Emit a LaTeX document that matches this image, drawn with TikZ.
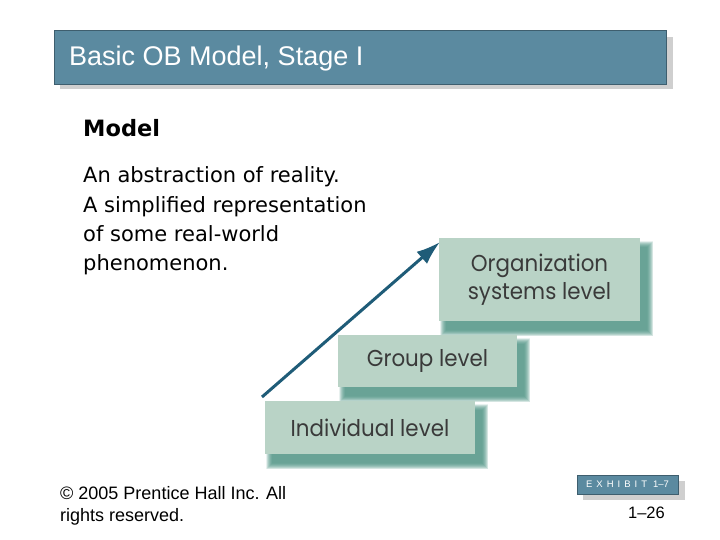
\documentclass[tikz,border=0pt]{standalone}
\usepackage{fontspec}
\setmainfont{Liberation Sans}
\newfontfamily\bodyfont{DejaVu Sans}
\newfontfamily\levelfont[FakeStretch=0.93]{Poppins}
\usetikzlibrary{arrows.meta}
\definecolor{titleblue}{HTML}{5B8AA0}
\definecolor{titleedge}{HTML}{3E5E6E}
\definecolor{greyshadow}{HTML}{CFCFCF}
\definecolor{boxfill}{HTML}{B9D3C6}
\definecolor{tealshadow}{HTML}{4F9585}
\definecolor{arrowblue}{HTML}{1F5C78}
\definecolor{leveltext}{HTML}{3A3A3A}
\newcommand{\softshadow}[4]{%
  \foreach \k in {0,...,12}{%
    \fill[tealshadow, opacity=0.13] (#1+7-6+\k*0.5, #2+9-6+\k*0.5) rectangle (#3+7+6-\k*0.5, #4+9+6-\k*0.5);
  }%
}
\tikzset{
  levelbox/.style={fill=boxfill, draw=none, inner sep=0pt, align=center,
    font=\levelfont\fontsize{23}{28}\selectfont, text=leveltext},
  plain/.style={inner sep=0pt, anchor=base west}
}
\begin{document}
\begin{tikzpicture}[x=1pt,y=-1pt]
\useasboundingbox (0,0) rectangle (720,540);
\fill[white] (0,0) rectangle (720,540);
% title bar
\fill[greyshadow] (60,37) rectangle (673,89);
\node[fill=titleblue, draw=titleedge, line width=0.8pt, minimum width=612pt, minimum height=54pt, inner sep=0pt] (title) at (360,57) {};
\node[plain, text=white, font=\fontsize{27}{32}\selectfont] (titletext) at (69,66) {Basic OB Model, Stage I};
% model text
\node[plain, font=\bodyfont\bfseries\fontsize{22.5}{27}\selectfont] (model) at (83,137) {Model};
\node[plain, font=\bodyfont\fontsize{21}{29}\selectfont] (l1) at (83,183) {An abstraction of reality.};
\node[plain, font=\bodyfont\fontsize{21}{29}\selectfont] (l2) at (83,212) {A simplified representation};
\node[plain, font=\bodyfont\fontsize{21}{29}\selectfont] (l3) at (83,241) {of some real-world};
\node[plain, font=\bodyfont\fontsize{21}{29}\selectfont] (l4) at (83,270) {phenomenon.};
% shadows
\softshadow{439}{238}{640}{321}
\softshadow{338}{335}{517}{387}
\softshadow{265}{401}{475}{454}
% level boxes
\node[levelbox, minimum width=201pt, minimum height=83pt] (org) at (539.5,279.5) {Organization\\systems level};
\node[levelbox, minimum width=179pt, minimum height=52pt] (grp) at (427.5,361) {Group level};
\node[levelbox, minimum width=210pt, minimum height=53pt] (ind) at (370,427.5) {Individual level};
% arrow
\coordinate (arrS) at (262,397);
\coordinate (arrE) at (440,242);
\draw[arrowblue, line width=3pt, -{Latex[length=24pt,width=16pt]}] (arrS) -- (arrE);
% footer
\node[plain, font=\fontsize{18}{22}\selectfont] (copy1) at (60,499) {© 2005 Prentice Hall Inc. All};
\node[plain, font=\fontsize{18}{22}\selectfont] (copy2) at (60,521) {rights reserved.};
\fill[greyshadow] (583,481) rectangle (685,500);
\node[fill=titleblue, draw=titleedge, line width=0.8pt, minimum width=101pt, minimum height=19pt, inner sep=0pt,
  text=white, font=\fontsize{9.5}{11}\selectfont] (exhibit) at (627.5,484.5) {E\hspace{4pt}X\hspace{4pt}H\hspace{4pt}I\hspace{4pt}B\hspace{4pt}I\hspace{4pt}T\hspace{6pt}1–7};
\node[inner sep=0pt, anchor=base east, font=\fontsize{16.5}{20}\selectfont] (page) at (665,518) {1–26};
\end{tikzpicture}
\end{document}
